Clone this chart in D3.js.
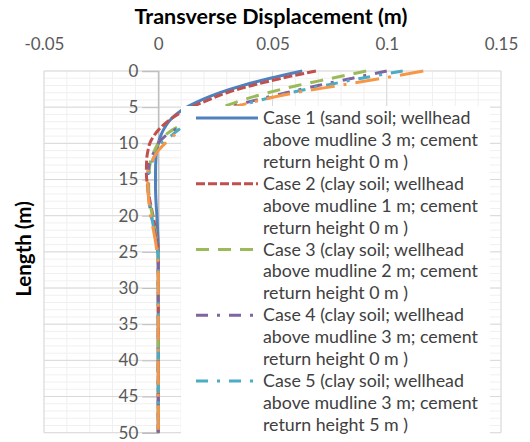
<!DOCTYPE html>
<html>
<head>
<meta charset="utf-8">
<script src="https://cdn.jsdelivr.net/npm/d3@7/dist/d3.min.js"></script>
<style>
  html, body { margin: 0; padding: 0; background: #fff; }
  svg { display: block; font-family: Lato, "Open Sans", sans-serif; }
</style>
</head>
<body>
<svg id="chart" width="530" height="442"></svg>
<script>
// Depth below the top of the conductor (m)
const depths = [0, 1, 2, 3, 4, 5, 6, 7, 8, 9, 10, 11, 12, 14, 16, 18, 20, 22, 24, 26, 28, 30, 35, 40, 45, 50];

// Transverse displacement (m) at each depth
const case1 = [0.063, 0.049, 0.037, 0.027, 0.019, 0.0125, 0.0078, 0.0046, 0.0025, 0.001, 0.0, -0.0007, -0.001, -0.0012, -0.0012, -0.001, -0.0006, -0.0003, 0, 0, 0, 0, 0, 0, 0, 0];
const case2 = [0.069, 0.054, 0.041, 0.030, 0.022, 0.0145, 0.0085, 0.004, 0.0005, -0.002, -0.0037, -0.0045, -0.005, -0.0052, -0.0047, -0.0036, -0.0023, -0.0011, -0.0002, 0, 0, 0, 0, 0, 0, 0];
const case3 = [0.091, 0.076, 0.061, 0.048, 0.037, 0.028, 0.020, 0.013, 0.007, 0.0025, 0.0, -0.0017, -0.003, -0.004, -0.0042, -0.0037, -0.0026, -0.0014, -0.0005, 0, 0, 0, 0, 0, 0, 0];
const case4 = [0.100, 0.085, 0.070, 0.056, 0.043, 0.031, 0.022, 0.014, 0.008, 0.003, 0.0, -0.0015, -0.003, -0.0045, -0.0046, -0.004, -0.003, -0.0017, -0.0006, 0, 0, 0, 0, 0, 0, 0];
const case5 = [0.107, 0.089, 0.073, 0.058, 0.045, 0.033, 0.023, 0.015, 0.0095, 0.0055, 0.0015, -0.0005, -0.002, -0.004, -0.0045, -0.004, -0.003, -0.0018, -0.0007, 0, 0, 0, 0, 0, 0, 0];
const case6 = [0.116, 0.098, 0.079, 0.060, 0.045, 0.033, 0.024, 0.016, 0.011, 0.0065, 0.003, 0.0, -0.002, -0.0045, -0.0046, -0.0041, -0.0034, -0.0021, -0.001, -0.0003, 0, 0, 0, 0, 0, 0];

const seriesNames = ["Case 1", "Case 2", "Case 3", "Case 4", "Case 5", "Case 6"];
const seriesValues = [case1, case2, case3, case4, case5, case6];
const seriesColors = ["#4F81BD", "#C0504D", "#9BBB59", "#8064A2", "#4BACC6", "#F79646"];
const seriesDashes = [null, "9,3", "13,9", "12,9,3,9", "12,9,3,9", "24,9,3,9"];

// Legend text, three lines per entry (only the first five entries fit in the box)
const legendLines = [
  ["Case 1 (sand soil; wellhead", "above mudline 3 m; cement", "return height 0 m )"],
  ["Case 2 (clay soil; wellhead", "above mudline 1 m; cement", "return height 0 m )"],
  ["Case 3 (clay soil; wellhead", "above mudline 2 m; cement", "return height 0 m )"],
  ["Case 4 (clay soil; wellhead", "above mudline 3 m; cement", "return height 0 m )"],
  ["Case 5 (clay soil; wellhead", "above mudline 3 m; cement", "return height 5 m )"]
];

const xTicks = [-0.05, 0, 0.05, 0.1, 0.15];
const yTicks = [0, 5, 10, 15, 20, 25, 30, 35, 40, 45, 50];
const xTitle = "Transverse Displacement (m)";
const yTitle = "Length (m)";

const svg = d3.select("#chart");
const x = d3.scaleLinear().domain([-0.05, 0.15]).range([44, 501]);
const y = d3.scaleLinear().domain([0, 50]).range([71, 432.7]);

// gridlines: minor then major
const grid = svg.append("g");
const xMinor = d3.range(-0.05, 0.1501, 0.01).map(v => +v.toFixed(3));
const yMinor = d3.range(0, 50.01, 1);
grid.selectAll(".vmin").data(xMinor).join("line")
  .attr("x1", d => x(d)).attr("x2", d => x(d))
  .attr("y1", y(0)).attr("y2", y(50))
  .attr("stroke", "#F0F0F0").attr("stroke-width", 1);
grid.selectAll(".hmin").data(yMinor).join("line")
  .attr("x1", x(-0.05)).attr("x2", x(0.15))
  .attr("y1", d => y(d)).attr("y2", d => y(d))
  .attr("stroke", "#F0F0F0").attr("stroke-width", 1);
grid.selectAll(".vmaj").data(xTicks).join("line")
  .attr("x1", d => x(d)).attr("x2", d => x(d))
  .attr("y1", y(0)).attr("y2", y(50))
  .attr("stroke", "#D9D9D9").attr("stroke-width", 1);
grid.selectAll(".hmaj").data(yTicks).join("line")
  .attr("x1", x(-0.05)).attr("x2", x(0.15))
  .attr("y1", d => y(d)).attr("y2", d => y(d))
  .attr("stroke", "#D9D9D9").attr("stroke-width", 1);

// vertical axis crossing at zero displacement
const yAxis = d3.axisLeft(y).tickValues(yTicks).tickSize(16).tickPadding(4).tickFormat(d3.format("d"));
const ya = svg.append("g").attr("transform", `translate(${x(0)},0)`).call(yAxis);
ya.select(".domain").attr("stroke", "#BFBFBF").attr("stroke-width", 1.5);
ya.selectAll(".tick line").attr("stroke", "#BFBFBF");
ya.selectAll(".tick text").attr("fill", "#595959").style("font-size", "17px").style("font-family", "Lato, sans-serif");

// top axis labels only
const xAxis = d3.axisTop(x).tickValues(xTicks).tickSize(0).tickPadding(0).tickFormat(d => d === 0 ? "0" : String(d));
const xa = svg.append("g").attr("transform", `translate(0,50)`).call(xAxis);
xa.select(".domain").remove();
xa.selectAll(".tick text").attr("fill", "#595959").style("font-size", "17px").style("font-family", "Lato, sans-serif").attr("dy", 0);

// series lines
const line = d3.line().x(d => x(d[1])).y(d => y(d[0])).curve(d3.curveMonotoneY);
seriesValues.forEach((vals, i) => {
  svg.append("path")
    .datum(depths.map((dp, k) => [dp, vals[k]]))
    .attr("d", line)
    .attr("fill", "none")
    .attr("stroke", seriesColors[i])
    .attr("stroke-width", 3)
    .attr("stroke-dasharray", seriesDashes[i])
    .attr("stroke-linejoin", "round");
});

// legend
const lg = svg.append("g");
lg.append("rect").attr("x", 181).attr("y", 106).attr("width", 309).attr("height", 330).attr("fill", "#fff");
legendLines.forEach((lines, i) => {
  const cy = 118 + i * 65.75;
  lg.append("line")
    .attr("x1", 196).attr("x2", 258).attr("y1", cy).attr("y2", cy)
    .attr("stroke", seriesColors[i]).attr("stroke-width", 3)
    .attr("stroke-dasharray", seriesDashes[i]);
  lines.forEach((t, j) => {
    lg.append("text")
      .attr("x", 263).attr("y", cy + 6 + j * 21.9)
      .attr("fill", "#404040").style("font-size", "17.8px")
      .text(t);
  });
});

// titles
svg.append("text").attr("x", 271).attr("y", 24).attr("text-anchor", "middle")
  .style("font-size", "21.5px").style("font-weight", "bold").attr("fill", "#000").text(xTitle);
svg.append("text").attr("transform", "translate(31,249) rotate(-90)").attr("text-anchor", "middle")
  .style("font-size", "20.5px").style("font-weight", "bold").attr("fill", "#000").text(yTitle);
</script>
</body>
</html>
